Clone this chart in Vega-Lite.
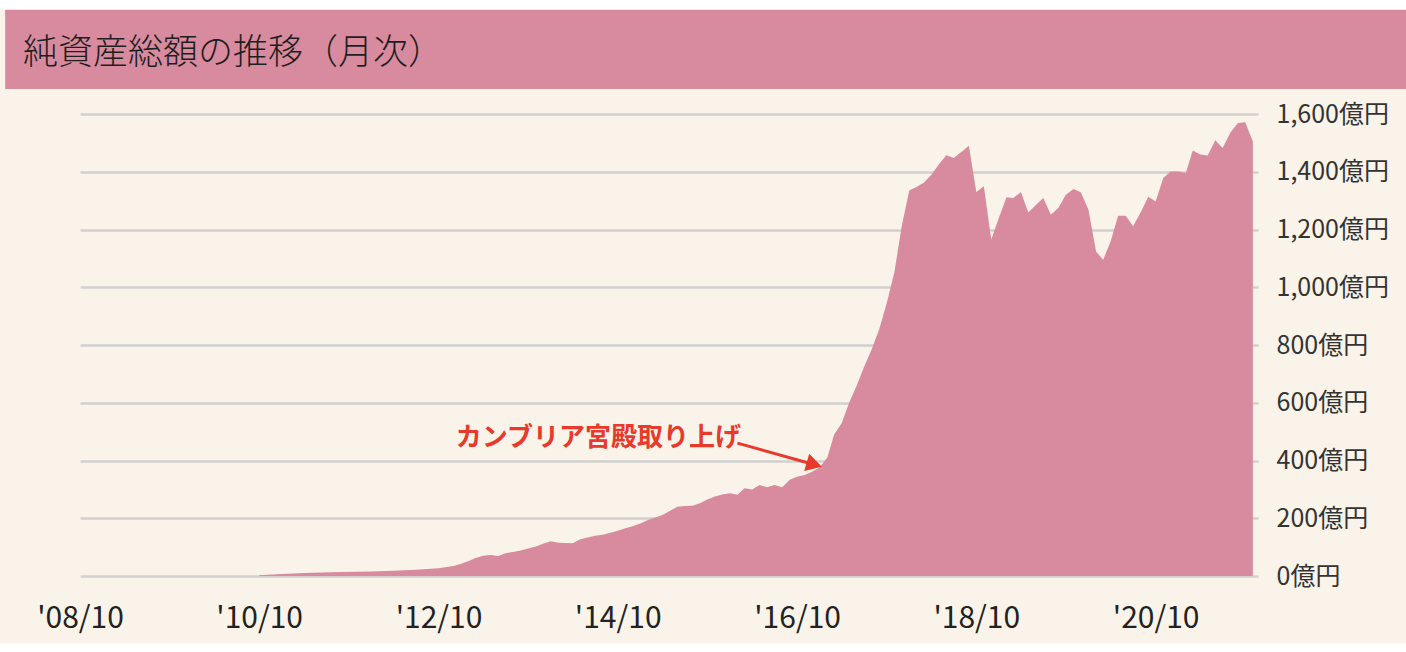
{
  "$schema": "https://vega.github.io/schema/vega-lite/v6.json",
  "autosize": {"type": "none"},
  "width": 1178,
  "height": 462,
  "padding": {"left": 80, "top": 114, "right": 148, "bottom": 76},
  "background": "#FAF3E9",
  "datasets": {
    "nav": [
      {"date": "2010-10-01", "value": 3},
      {"date": "2011-01-01", "value": 7},
      {"date": "2011-04-01", "value": 10},
      {"date": "2011-09-01", "value": 14},
      {"date": "2012-01-01", "value": 16},
      {"date": "2012-04-01", "value": 18},
      {"date": "2012-07-01", "value": 22},
      {"date": "2012-10-01", "value": 27},
      {"date": "2012-12-01", "value": 35},
      {"date": "2013-01-01", "value": 42},
      {"date": "2013-02-01", "value": 52},
      {"date": "2013-03-01", "value": 62},
      {"date": "2013-04-01", "value": 70},
      {"date": "2013-05-01", "value": 73},
      {"date": "2013-06-01", "value": 69},
      {"date": "2013-07-01", "value": 79},
      {"date": "2013-08-01", "value": 83},
      {"date": "2013-09-01", "value": 88},
      {"date": "2013-10-01", "value": 95},
      {"date": "2013-11-01", "value": 102},
      {"date": "2013-12-01", "value": 112},
      {"date": "2014-01-01", "value": 120},
      {"date": "2014-02-01", "value": 115},
      {"date": "2014-03-01", "value": 114},
      {"date": "2014-04-01", "value": 113},
      {"date": "2014-05-01", "value": 127},
      {"date": "2014-06-01", "value": 133},
      {"date": "2014-07-01", "value": 139},
      {"date": "2014-08-01", "value": 143},
      {"date": "2014-09-01", "value": 150},
      {"date": "2014-10-01", "value": 157},
      {"date": "2014-11-01", "value": 165},
      {"date": "2014-12-01", "value": 172},
      {"date": "2015-01-01", "value": 182},
      {"date": "2015-02-01", "value": 194},
      {"date": "2015-03-01", "value": 202},
      {"date": "2015-04-01", "value": 211},
      {"date": "2015-05-01", "value": 225},
      {"date": "2015-06-01", "value": 240},
      {"date": "2015-07-01", "value": 242},
      {"date": "2015-08-01", "value": 243},
      {"date": "2015-09-01", "value": 252},
      {"date": "2015-10-01", "value": 265},
      {"date": "2015-11-01", "value": 275},
      {"date": "2015-12-01", "value": 282},
      {"date": "2016-01-01", "value": 287},
      {"date": "2016-02-01", "value": 281},
      {"date": "2016-03-01", "value": 304},
      {"date": "2016-04-01", "value": 300},
      {"date": "2016-05-01", "value": 315},
      {"date": "2016-06-01", "value": 307},
      {"date": "2016-07-01", "value": 315},
      {"date": "2016-08-01", "value": 307},
      {"date": "2016-09-01", "value": 333},
      {"date": "2016-10-01", "value": 344},
      {"date": "2016-11-01", "value": 350},
      {"date": "2016-12-01", "value": 361},
      {"date": "2017-01-01", "value": 376},
      {"date": "2017-02-01", "value": 410},
      {"date": "2017-03-01", "value": 490},
      {"date": "2017-04-01", "value": 530},
      {"date": "2017-05-01", "value": 600},
      {"date": "2017-06-01", "value": 660},
      {"date": "2017-07-01", "value": 725},
      {"date": "2017-08-01", "value": 785},
      {"date": "2017-09-01", "value": 855},
      {"date": "2017-10-01", "value": 945},
      {"date": "2017-11-01", "value": 1050},
      {"date": "2017-12-01", "value": 1210},
      {"date": "2018-01-01", "value": 1335},
      {"date": "2018-02-01", "value": 1348},
      {"date": "2018-03-01", "value": 1362},
      {"date": "2018-04-01", "value": 1390},
      {"date": "2018-05-01", "value": 1425},
      {"date": "2018-06-01", "value": 1457},
      {"date": "2018-07-01", "value": 1448},
      {"date": "2018-08-01", "value": 1468},
      {"date": "2018-09-01", "value": 1490},
      {"date": "2018-10-01", "value": 1330},
      {"date": "2018-11-01", "value": 1350},
      {"date": "2018-12-01", "value": 1165},
      {"date": "2019-01-01", "value": 1240},
      {"date": "2019-02-01", "value": 1312},
      {"date": "2019-03-01", "value": 1309},
      {"date": "2019-04-01", "value": 1330},
      {"date": "2019-05-01", "value": 1259},
      {"date": "2019-06-01", "value": 1285},
      {"date": "2019-07-01", "value": 1309},
      {"date": "2019-08-01", "value": 1251},
      {"date": "2019-09-01", "value": 1275},
      {"date": "2019-10-01", "value": 1320},
      {"date": "2019-11-01", "value": 1340},
      {"date": "2019-12-01", "value": 1329},
      {"date": "2020-01-01", "value": 1269},
      {"date": "2020-02-01", "value": 1124},
      {"date": "2020-03-01", "value": 1095},
      {"date": "2020-04-01", "value": 1160},
      {"date": "2020-05-01", "value": 1248},
      {"date": "2020-06-01", "value": 1248},
      {"date": "2020-07-01", "value": 1211},
      {"date": "2020-08-01", "value": 1260},
      {"date": "2020-09-01", "value": 1313},
      {"date": "2020-10-01", "value": 1297},
      {"date": "2020-11-01", "value": 1378},
      {"date": "2020-12-01", "value": 1401},
      {"date": "2021-01-01", "value": 1401},
      {"date": "2021-02-01", "value": 1396},
      {"date": "2021-03-01", "value": 1474},
      {"date": "2021-04-01", "value": 1460},
      {"date": "2021-05-01", "value": 1456},
      {"date": "2021-06-01", "value": 1509},
      {"date": "2021-07-01", "value": 1482},
      {"date": "2021-08-01", "value": 1535},
      {"date": "2021-09-01", "value": 1569},
      {"date": "2021-10-01", "value": 1571},
      {"date": "2021-11-01", "value": 1505}
    ],
    "one": [{}]
  },
  "layer": [
    {
      "data": {"name": "nav"},
      "mark": {"type": "area", "color": "#D88A9E", "interpolate": "linear"},
      "encoding": {
        "x": {
          "field": "date",
          "type": "temporal",
          "title": null,
          "scale": {
            "type": "utc",
            "domain": [
              {"year": 2008, "month": 10, "date": 1, "utc": true},
              {"year": 2021, "month": 11, "date": 22, "utc": true}
            ]
          },
          "axis": {
            "values": [
              {"year": 2008, "month": 10, "date": 1, "utc": true},
              {"year": 2010, "month": 10, "date": 1, "utc": true},
              {"year": 2012, "month": 10, "date": 1, "utc": true},
              {"year": 2014, "month": 10, "date": 1, "utc": true},
              {"year": 2016, "month": 10, "date": 1, "utc": true},
              {"year": 2018, "month": 10, "date": 1, "utc": true},
              {"year": 2020, "month": 10, "date": 1, "utc": true}
            ],
            "labelExpr": "utcFormat(datum.value, \"'%y/%m\")",
            "labelFlush": false,
            "labelOverlap": false,
            "labelFontSize": 30,
            "labelColor": "#222222",
            "labelPadding": 27,
            "domain": false,
            "ticks": false,
            "grid": false
          }
        },
        "y": {
          "field": "value",
          "type": "quantitative",
          "title": null,
          "scale": {"domain": [0, 1600], "nice": false},
          "axis": {
            "orient": "right",
            "values": [0, 200, 400, 600, 800, 1000, 1200, 1400, 1600],
            "labelExpr": "format(datum.value, ',') + '億円'",
            "labelAlign": "left",
            "labelBaseline": "middle",
            "labelPadding": 18,
            "labelFontSize": 25,
            "labelColor": "#333333",
            "domain": false,
            "ticks": false,
            "grid": true,
            "gridColor": "#D1D0CE",
            "gridWidth": 2.5
          }
        }
      }
    },
    {
      "data": {"name": "one"},
      "mark": {"type": "rect", "color": "#D88A9E"},
      "encoding": {
        "x": {"datum": {"year": 2007, "month": 12, "date": 1, "utc": true}, "type": "temporal"},
        "x2": {"datum": {"year": 2024, "month": 1, "date": 1, "utc": true}},
        "y": {"datum": 1687, "type": "quantitative"},
        "y2": {"datum": 1962}
      }
    },
    {
      "data": {"name": "one"},
      "mark": {"type": "rect", "color": "#FFFFFF"},
      "encoding": {
        "x": {"datum": {"year": 2007, "month": 1, "date": 1, "utc": true}, "type": "temporal"},
        "x2": {"datum": {"year": 2024, "month": 1, "date": 1, "utc": true}},
        "y": {"datum": 1962, "type": "quantitative"},
        "y2": {"datum": 2400}
      }
    },
    {
      "data": {"name": "one"},
      "mark": {"type": "rect", "color": "#FFFFFF"},
      "encoding": {
        "x": {"datum": {"year": 2007, "month": 1, "date": 1, "utc": true}, "type": "temporal"},
        "x2": {"datum": {"year": 2024, "month": 1, "date": 1, "utc": true}},
        "y": {"datum": -233, "type": "quantitative"},
        "y2": {"datum": -400}
      }
    },
    {
      "data": {"name": "one"},
      "mark": {
        "type": "text",
        "align": "left",
        "baseline": "middle",
        "font": "Noto Sans CJK JP",
        "fontSize": 35,
        "fontWeight": 300,
        "color": "#1E1E1E"
      },
      "encoding": {
        "x": {"datum": {"year": 2008, "month": 2, "date": 12, "utc": true}, "type": "temporal"},
        "y": {"datum": 1811, "type": "quantitative"},
        "text": {"value": "純資産総額の推移（月次）"}
      }
    },
    {
      "data": {"name": "one"},
      "mark": {
        "type": "text",
        "align": "left",
        "baseline": "middle",
        "font": "Noto Sans CJK JP",
        "fontSize": 26,
        "fontWeight": "bold",
        "color": "#E8392B"
      },
      "encoding": {
        "x": {"datum": {"year": 2012, "month": 12, "date": 10, "utc": true}, "type": "temporal"},
        "y": {"datum": 478, "type": "quantitative"},
        "text": {"value": "カンブリア宮殿取り上げ"}
      }
    },
    {
      "data": {"name": "one"},
      "mark": {"type": "rule", "color": "#E8392B", "strokeWidth": 3},
      "encoding": {
        "x": {"datum": {"year": 2016, "month": 2, "date": 1, "utc": true}, "type": "temporal"},
        "x2": {"datum": {"year": 2016, "month": 12, "date": 1, "utc": true}},
        "y": {"datum": 460, "type": "quantitative"},
        "y2": {"datum": 388}
      }
    },
    {
      "data": {"name": "one"},
      "mark": {
        "type": "point",
        "shape": "triangle-right",
        "filled": true,
        "opacity": 1,
        "size": 330,
        "angle": 16,
        "color": "#E8392B"
      },
      "encoding": {
        "x": {"datum": {"year": 2016, "month": 12, "date": 10, "utc": true}, "type": "temporal"},
        "y": {"datum": 386, "type": "quantitative"}
      }
    }
  ],
  "config": {
    "font": "Noto Sans CJK JP",
    "view": {"stroke": null}
  }
}
